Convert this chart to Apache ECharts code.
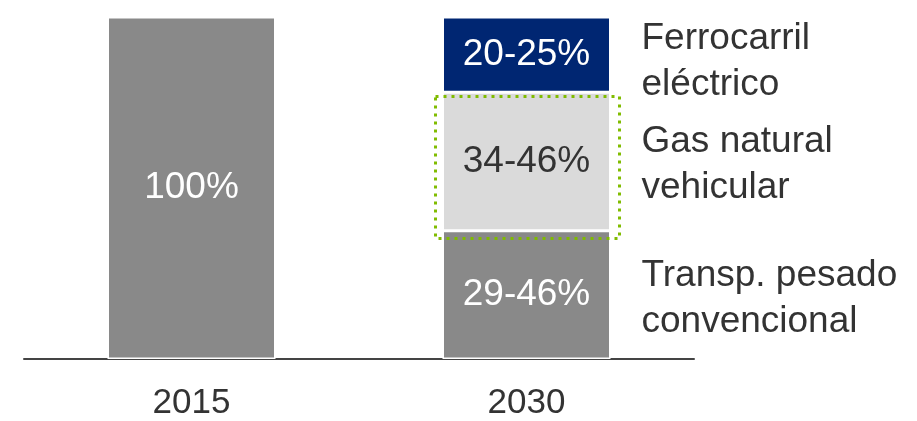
<!DOCTYPE html>
<html>
<head>
<meta charset="utf-8">
<script src="https://cdn.jsdelivr.net/npm/echarts@6/dist/echarts.min.js"></script>
<style>
  html, body { margin: 0; padding: 0; background: #fff; }
  #chart { width: 917px; height: 421px; }
</style>
</head>
<body>
<div id="chart"></div>
<script>
// data
const years = ['2015', '2030'];
const transpValues = [100, 37.5];
const gasValues = ['-', 40.5];
const ferroValues = ['-', 22];
const transpLabels = ['100%', '29-46%'];
const gasLabels = ['', '34-46%'];
const ferroLabels = ['', '20-25%'];
const segmentNames = ['Transp. pesado\nconvencional', 'Gas natural\nvehicular', 'Ferrocarril\neléctrico'];
const nameValues = [
  ['-', transpValues[1]],
  ['-', gasValues[1]],
  ['-', ferroValues[1]],
];

const FONT = '"Liberation Sans", Arial, sans-serif';
const nameOffsets = [[0, 4], [0, 3], [0, 7]];
const chart = echarts.init(document.getElementById('chart'));

function valueLabel(labels, color) {
  return {
    show: true,
    position: 'inside',
    fontFamily: FONT,
    fontSize: 37,
    color: color,
    formatter: (p) => labels[p.dataIndex],
  };
}

const common = {
  type: 'bar',
  barWidth: 168,
  barGap: '-100%',
};

const option = {
  animation: false,
  grid: { left: 24, right: 223, top: 17, bottom: 61 },
  xAxis: {
    type: 'category',
    data: years,
    axisTick: { show: false },
    axisLine: { lineStyle: { color: '#444', width: 2 } },
    axisLabel: {
      margin: 27,
      fontFamily: FONT,
      fontSize: 35,
      color: '#333',
    },
  },
  yAxis: {
    type: 'value',
    min: 0,
    max: 100,
    show: false,
    splitLine: { show: false },
  },
  series: [
    Object.assign({}, common, {
      name: segmentNames[0],
      stack: 'mix',
      data: transpValues,
      itemStyle: { color: '#898989', borderColor: '#fff', borderWidth: 1.5 },
      label: valueLabel(transpLabels, '#fff'),
    }),
    Object.assign({}, common, {
      name: segmentNames[1],
      stack: 'mix',
      data: gasValues,
      itemStyle: { color: '#DADADA', borderColor: '#fff', borderWidth: 1.5 },
      label: valueLabel(gasLabels, '#333'),
    }),
    Object.assign({}, common, {
      name: segmentNames[2],
      stack: 'mix',
      data: ferroValues,
      itemStyle: { color: '#002672', borderColor: '#fff', borderWidth: 1.5 },
      label: valueLabel(ferroLabels, '#fff'),
    }),
  ].concat(segmentNames.map((n, i) => Object.assign({}, common, {
    name: 'nm' + i,
    stack: 'names',
    data: nameValues[i],
    silent: true,
    itemStyle: { color: 'transparent', borderWidth: 0 },
    label: {
      show: true,
      position: 'right',
      distance: 31,
      offset: nameOffsets[i],
      fontFamily: FONT,
      fontSize: 37,
      lineHeight: 46,
      color: '#333',
      formatter: () => n,
    },
  }))),
};
chart.setOption(option);

// dotted frame round the gas segment
const lo = chart.convertToPixel({ gridIndex: 0 }, [years[1], transpValues[1]]);
const hi = chart.convertToPixel({ gridIndex: 0 }, [years[1], transpValues[1] + gasValues[1]]);
const fx = Math.round(lo[0] - 92) + 0.5;
const fy = Math.round(hi[1] + 4) + 0.5;
const fh = Math.round(lo[1] - hi[1] + 3);
chart.setOption({
  graphic: [{
    type: 'rect',
    z: 100,
    shape: { x: fx, y: fy, width: 184, height: fh },
    style: { fill: 'none', stroke: '#80BC00', lineWidth: 3, lineDash: [3, 5] },
  }],
});
</script>
</body>
</html>
